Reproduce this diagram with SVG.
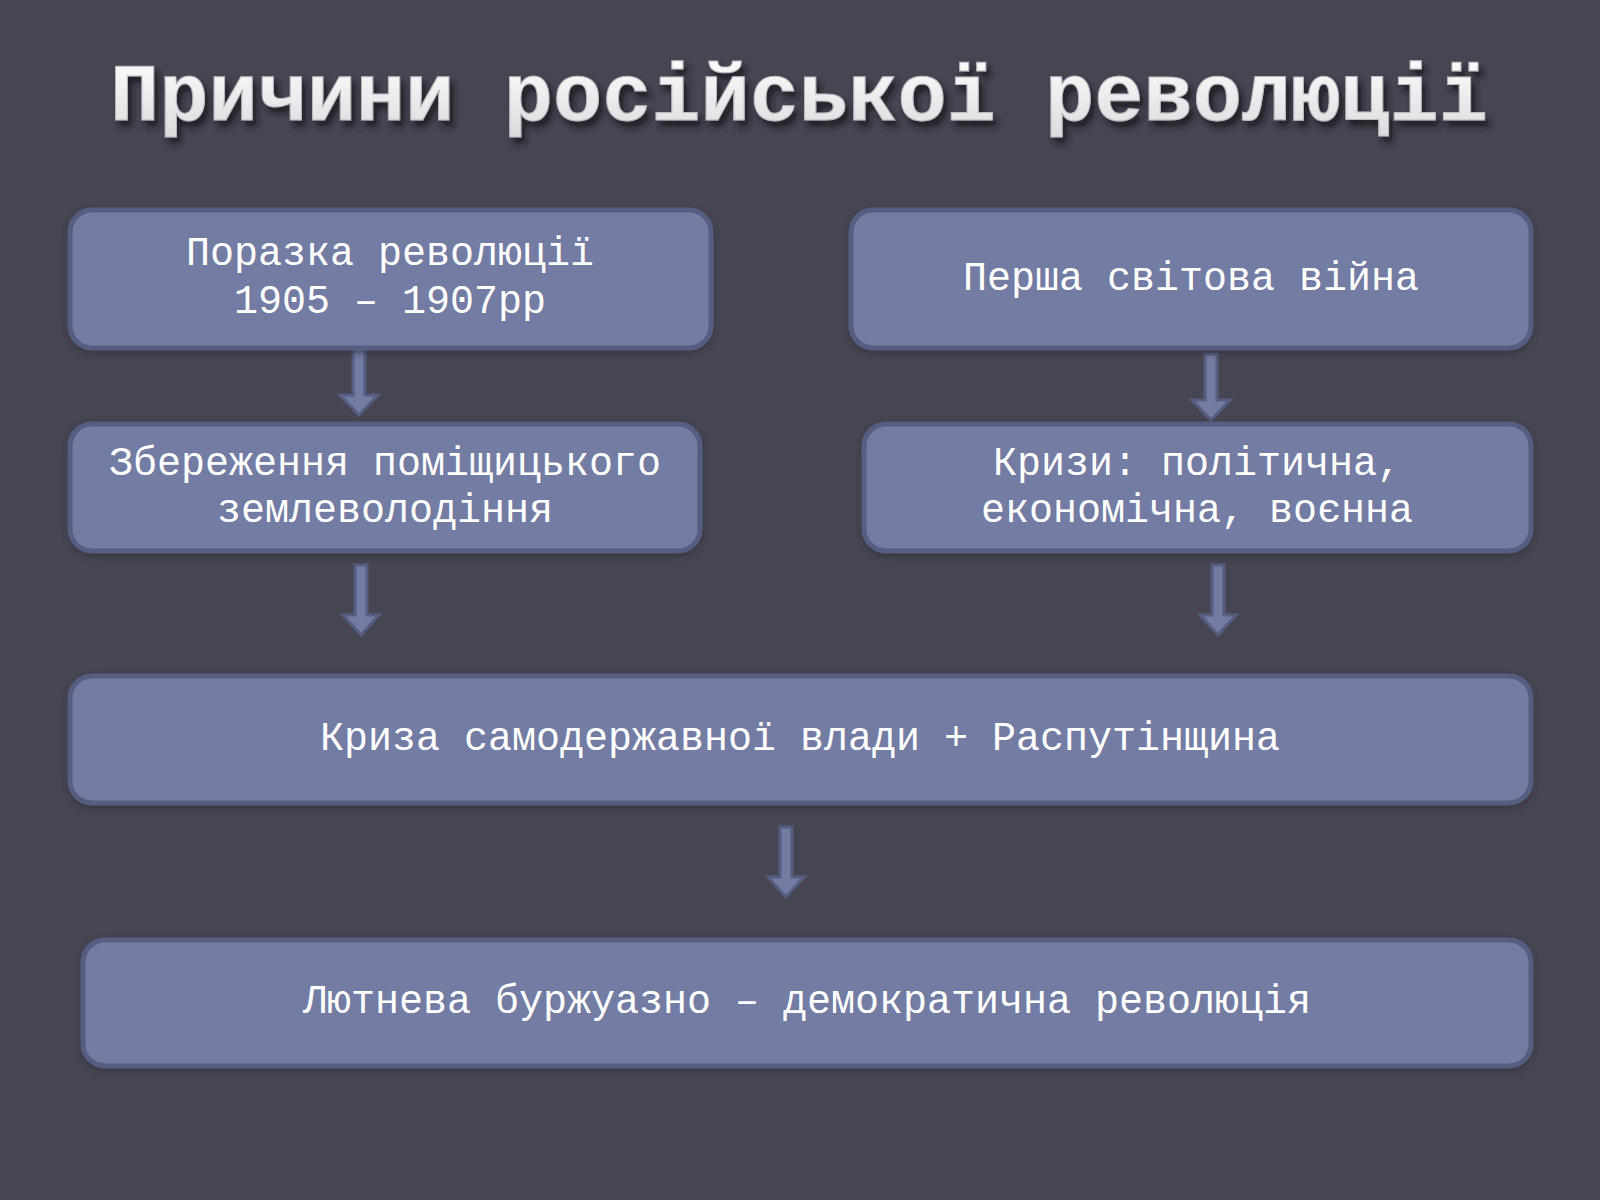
<svg xmlns="http://www.w3.org/2000/svg" width="1600" height="1200" viewBox="0 0 1600 1200">
<defs>
<filter id="tshadow" x="-5%" y="-30%" width="110%" height="170%">
<feDropShadow dx="4" dy="6" stdDeviation="3" flood-color="#15151c" flood-opacity="0.85"/>
</filter>
<filter id="bshadow" x="-5%" y="-10%" width="110%" height="130%">
<feDropShadow dx="0" dy="3" stdDeviation="3" flood-color="#2a2a34" flood-opacity="0.6"/>
</filter>
<linearGradient id="tgrad" x1="0" y1="0" x2="0" y2="1">
<stop offset="0" stop-color="#ffffff"/>
<stop offset="1" stop-color="#d8d8dc"/>
</linearGradient>
</defs>
<style>
.box{fill:#737ca2;stroke:#555d80;stroke-width:5;filter:url(#bshadow)}
.lbl{font-family:"Liberation Mono","Courier New",monospace;font-size:40px;fill:#ffffff;text-anchor:middle}
.title{font-family:"Liberation Mono","Courier New",monospace;font-size:82px;font-weight:bold;fill:url(#tgrad);stroke:#b8b8c0;stroke-width:1;text-anchor:middle;filter:url(#tshadow)}
.arr{fill:#737ca2;stroke:#555d80;stroke-width:3;stroke-linejoin:miter}
</style>
<rect width="1600" height="1200" fill="#464653"/>
<text class="title" x="799" y="120">Причини російської революції</text>
<g id="connectors">
<path class="arr" d="M353,347 H365 V395 H378 L359,415 L340,395 H353 Z"/>
<path class="arr" d="M355,565 H367 V615 H379 L361,635 L343,615 H355 Z"/>
<path class="arr" d="M1205,354 H1217 V400 H1230 L1211,420 L1192,400 H1205 Z"/>
<path class="arr" d="M1212,565 H1224 V615 H1236 L1218,635 L1200,615 H1212 Z"/>
<path class="arr" d="M780,827 H792 V877 H804 L786,897 L768,877 H780 Z"/>
</g>
<g id="n1">
<rect class="box" x="70" y="210" width="641" height="138" rx="22"/>
<text class="lbl" x="390" y="265">Поразка революції</text>
<text class="lbl" x="390" y="313">1905 – 1907рр</text>
</g>
<g id="n2">
<rect class="box" x="851" y="210" width="680" height="138" rx="22"/>
<text class="lbl" x="1191" y="290">Перша світова війна</text>
</g>
<g id="n3">
<rect class="box" x="70" y="424" width="630" height="127" rx="22"/>
<text class="lbl" x="385" y="475">Збереження поміщицького</text>
<text class="lbl" x="385" y="522">землеволодіння</text>
</g>
<g id="n4">
<rect class="box" x="864" y="424" width="667" height="127" rx="22"/>
<text class="lbl" x="1197" y="475">Кризи: політична,</text>
<text class="lbl" x="1197" y="522">економічна, воєнна</text>
</g>
<g id="n5">
<rect class="box" x="70" y="676" width="1461" height="127" rx="22"/>
<text class="lbl" x="800" y="750">Криза самодержавної влади + Распутінщина</text>
</g>
<g id="n6">
<rect class="box" x="83" y="940" width="1448" height="126" rx="22"/>
<text class="lbl" x="807" y="1013">Лютнева буржуазно – демократична революція</text>
</g>
</svg>
